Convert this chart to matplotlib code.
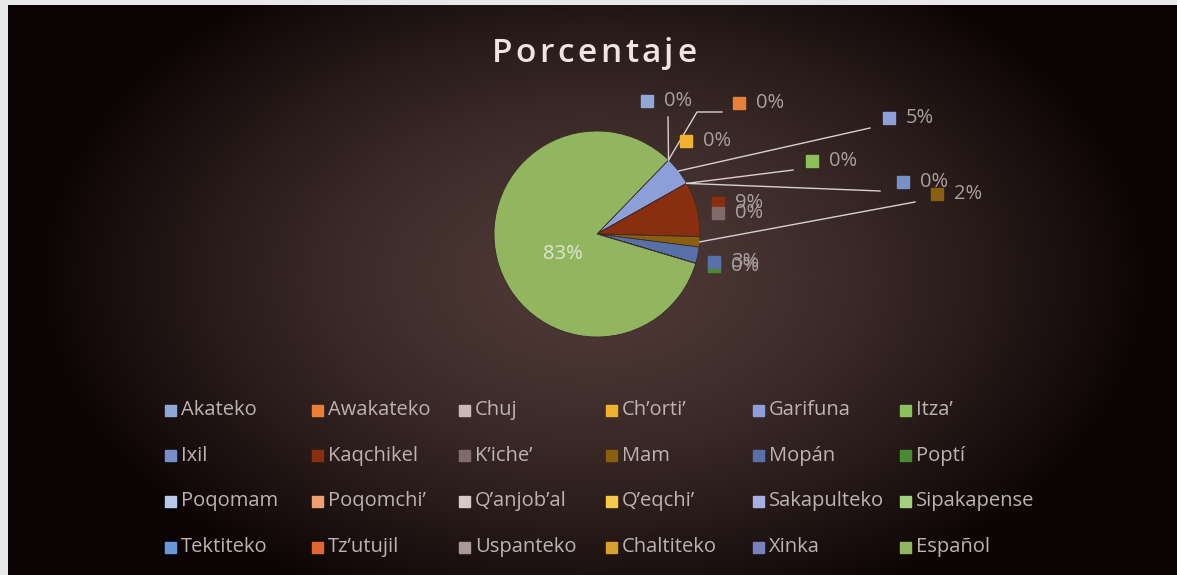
import numpy as np
import matplotlib
matplotlib.use("Agg")
import matplotlib.pyplot as plt
from matplotlib.patches import Rectangle

plt.rcParams['font.family'] = ['Open Sans', 'DejaVu Sans']

# datos
idiomas = ["Akateko", "Awakateko", "Chuj", "Ch\u2019orti\u2019", "Garifuna", "Itza\u2019",
           "Ixil", "Kaqchikel", "K\u2019iche\u2019", "Mam", "Mop\u00e1n", "Popt\u00ed",
           "Poqomam", "Poqomchi\u2019", "Q\u2019anjob\u2019al", "Q\u2019eqchi\u2019", "Sakapulteko", "Sipakapense",
           "Tektiteko", "Tz\u2019utujil", "Uspanteko", "Chaltiteko", "Xinka", "Espa\u00f1ol"]
porcentajes = [0, 0, 0, 0, 4.6, 0,
               0, 8.6, 0, 1.6, 2.6, 0,
               0, 0, 0, 0, 0, 0,
               0, 0, 0, 0, 0, 82.6]
colores = ["#8fa8d8", "#e8803a", "#c8b8b8", "#f0b030", "#8c9fd8", "#8cc05a",
           "#7890c8", "#8a2e10", "#806a6a", "#8a6010", "#5870a8", "#4a8a30",
           "#b8c8e8", "#f0a070", "#d8c8c8", "#f8c848", "#a8b0e0", "#a0d080",
           "#6898d8", "#e06830", "#a89898", "#d8a030", "#7880c0", "#92b660"]

W, H = 1177, 575
fig = plt.figure(figsize=(W / 100, H / 100), dpi=100, facecolor="#e8e8e8")
ax = fig.add_axes([0, 0, 1, 1])

# fondo oscuro (foto de pantalla)
yy, xx = np.mgrid[0:H, 0:W]
r = np.sqrt(((xx - 590) / 560.0) ** 2 + ((yy - 300) / 360.0) ** 2)
r = np.clip(r, 0, 1) ** 1.5
c0 = np.array([78, 58, 55]) / 255.0
c1 = np.array([12, 4, 4]) / 255.0
img = c0[None, None, :] * (1 - r[..., None]) + c1[None, None, :] * r[..., None]
ax.imshow(img, extent=(8, W, 0, H - 5), origin="lower", zorder=0)

cx, cy, rad = 597, H - 234, 103
first_angle = 44  # grados, sentido horario desde arriba
wedges, _ = ax.pie(porcentajes, colors=colores, startangle=90 - first_angle,
                   counterclock=False, center=(cx, cy), radius=rad,
                   wedgeprops=dict(linewidth=0.6, edgecolor="#3a2a28"))
ax.set_xlim(0, W)
ax.set_ylim(0, H)
ax.set_aspect("equal")
ax.axis("off")

# angulos medios de cada rebanada
cum = np.cumsum([0] + porcentajes)
mid = first_angle + (cum[:-1] + cum[1:]) / 2 / 100 * 360

def edge_point(i):
    t = np.radians(mid[i])
    return cx + rad * np.sin(t), cy + rad * np.cos(t)

lbl_color = "#aaa0a0"
fs = 14.5

def data_label(i, mx, my, z=5):
    ax.add_patch(Rectangle((mx - 6, H - my - 6), 12, 12, color=colores[i], zorder=z))
    s = f"{round(porcentajes[i]):.0f}%"
    ax.text(mx + 17, H - my, s, color=lbl_color, fontsize=fs, va="center", ha="left", zorder=z)

# etiquetas de datos (posicion del layout)
etiquetas = {0: (647, 101), 1: (739, 103), 3: (686, 141), 4: (889, 118), 5: (812, 161),
             6: (903, 182), 7: (718, 203), 8: (718, 213), 9: (937, 194), 11: (714, 266),
             10: (714, 262)}
for n, (i, (mx, my)) in enumerate(etiquetas.items()):
    data_label(i, mx, my, z=5 + n * 0.01)

# lineas guia
guias = {0: [(668, 117)], 1: [(697, 112), (722, 112)], 4: [(870, 128)], 5: [(793, 170)],
         6: [(880, 191)], 9: [(915, 202)]}
for i, pts in guias.items():
    x0, y0 = edge_point(i)
    xs = [x0] + [p[0] for p in pts]
    ys = [y0] + [H - p[1] for p in pts]
    ax.plot(xs, ys, color="#d8d0d0", lw=1.0, zorder=4)

# etiqueta de Español dentro de la rebanada
ax.text(563, H - 254, f"{round(porcentajes[23]):.0f}%", color="#dfe6cf", fontsize=fs,
        ha="center", va="center", zorder=5)

# titulo con algo de espaciado entre letras
titulo = "Porcentaje"
fig.canvas.draw()
renderer = fig.canvas.get_renderer()
tracking = 3.5
parts = []
for ch in titulo:
    t = ax.text(0, H - 53, ch, color="#f2e4e4", fontsize=24, fontweight="semibold",
                ha="left", va="center", zorder=5)
    parts.append((t, t.get_window_extent(renderer).width))
total = sum(w for _, w in parts) + tracking * (len(parts) - 1)
x = 594 - total / 2
for t, w in parts:
    t.set_x(x)
    x += w + tracking

# leyenda 6 x 4
for k, (nombre, col) in enumerate(zip(idiomas, colores)):
    fila, columna = divmod(k, 6)
    tx = 181 + columna * 147
    ly = 410 + fila * 45.7
    ax.add_patch(Rectangle((tx - 16, H - ly - 5.5), 11, 11, color=col, zorder=5))
    ax.text(tx, H - ly, nombre, color="#bdb3b3", fontsize=fs, va="center", ha="left", zorder=5)

fig.savefig("out.png", dpi=100, facecolor=fig.get_facecolor())
